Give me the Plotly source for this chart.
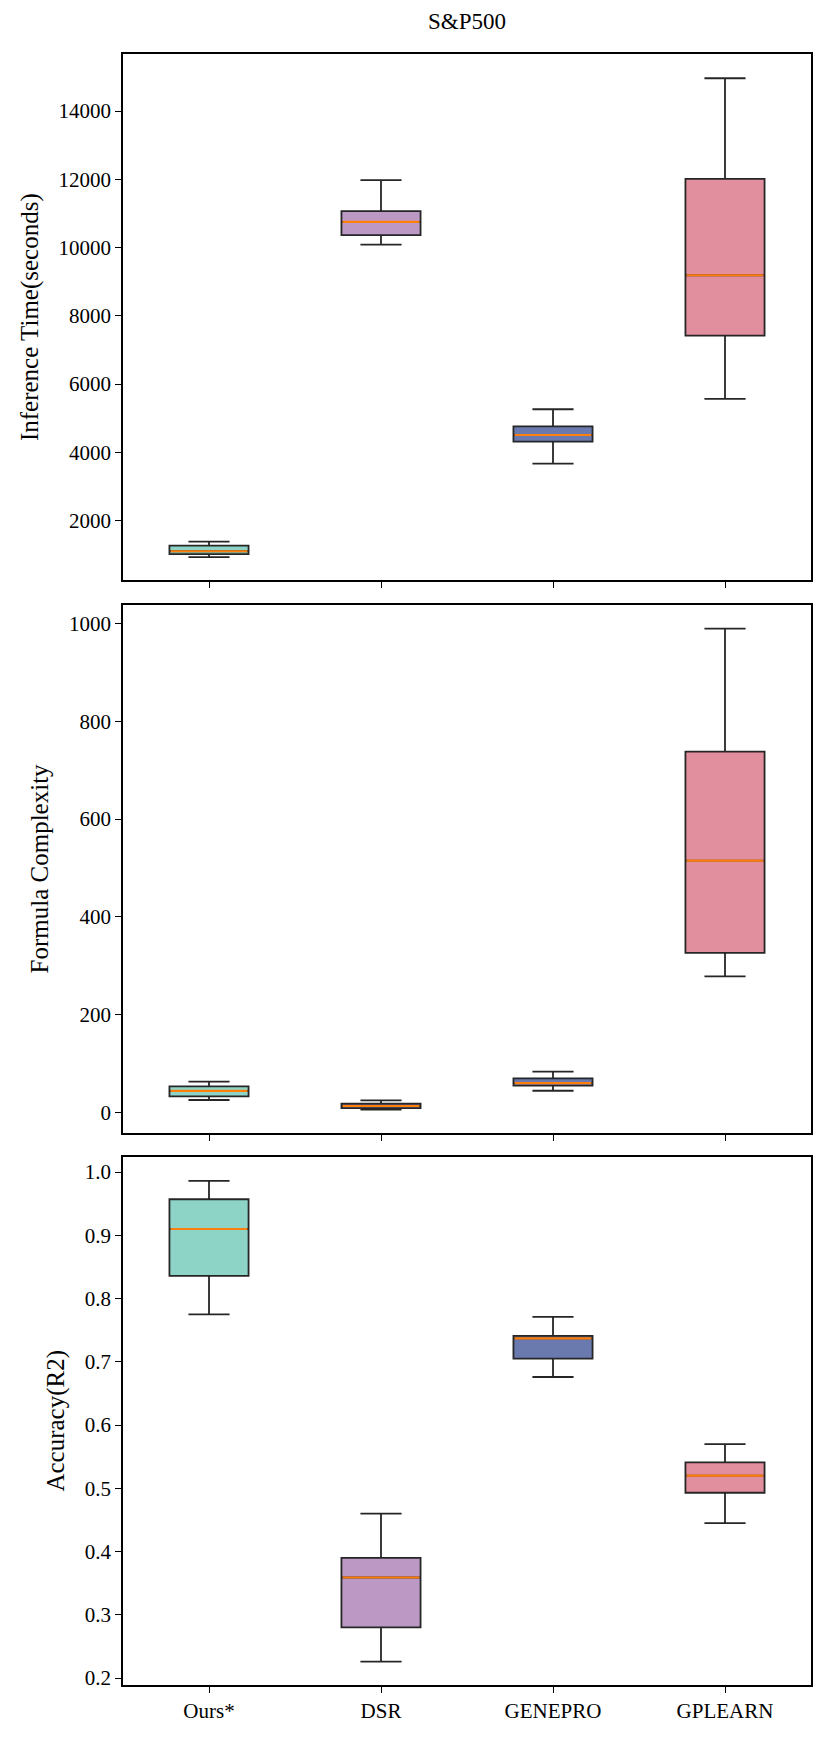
import plotly.graph_objects as go
from plotly.subplots import make_subplots

METHODS = ["Ours*", "DSR", "GENEPRO", "GPLEARN"]
COLORS = ["#8dd4c7", "#bc99c5", "#6a7aae", "#e18e9e"]

# box statistics per method: lower whisker, q1, median, q3, upper whisker
TIME_LOW = [930, 10085, 3670, 5570]
TIME_Q1 = [1020, 10365, 4315, 7420]
TIME_MED = [1105, 10755, 4510, 9190]
TIME_Q3 = [1268, 11070, 4760, 12015]
TIME_HIGH = [1385, 11975, 5265, 14960]

COMPLEXITY_LOW = [25, 5.5, 44, 278]
COMPLEXITY_Q1 = [32.5, 8.3, 54.3, 326]
COMPLEXITY_MED = [43.8, 12.8, 59.6, 515]
COMPLEXITY_Q3 = [52.8, 17.4, 69.4, 738]
COMPLEXITY_HIGH = [62.6, 24.2, 83, 990]

ACC_LOW = [0.775, 0.226, 0.676, 0.445]
ACC_Q1 = [0.836, 0.280, 0.705, 0.493]
ACC_MED = [0.910, 0.359, 0.737, 0.520]
ACC_Q3 = [0.957, 0.390, 0.741, 0.541]
ACC_HIGH = [0.986, 0.460, 0.771, 0.570]

PANELS = [
    ("Inference Time(seconds)", TIME_LOW, TIME_Q1, TIME_MED, TIME_Q3, TIME_HIGH, [253, 15671], 2000, 2000, "d"),
    ("Formula Complexity", COMPLEXITY_LOW, COMPLEXITY_Q1, COMPLEXITY_MED, COMPLEXITY_Q3, COMPLEXITY_HIGH, [-43, 1039], 0, 200, "d"),
    ("Accuracy(R2)", ACC_LOW, ACC_Q1, ACC_MED, ACC_Q3, ACC_HIGH, [0.189, 1.0245], 0.2, 0.1, ".1f"),
]

FONT = "Liberation Serif, Times New Roman, serif"
BOX_WIDTH = 0.46

fig = make_subplots(rows=3, cols=1, vertical_spacing=0.0)

domains = [[0.6773, 1.0], [0.3383, 0.6624], [0.0, 0.324]]

for row, (title, low, q1, med, q3, high, yrange, tick0, dtick, fmt) in enumerate(PANELS, start=1):
    for i, name in enumerate(METHODS):
        fig.add_trace(
            go.Box(
                x=[name], lowerfence=[low[i]], q1=[q1[i]], median=[med[i]], q3=[q3[i]], upperfence=[high[i]],
                fillcolor=COLORS[i], line=dict(color="#262626", width=1.8),
                width=BOX_WIDTH, whiskerwidth=0.52, boxpoints=False,
                hoverinfo="skip", showlegend=False,
            ),
            row=row, col=1,
        )
    # orange median line drawn as a flat box on top
    fig.add_trace(
        go.Box(
            x=METHODS, lowerfence=med, q1=med, median=med, q3=med, upperfence=med,
            fillcolor="rgba(0,0,0,0)", line=dict(color="#ff7f0e", width=2.2),
            width=BOX_WIDTH * 0.97, whiskerwidth=0, boxpoints=False,
            hoverinfo="skip", showlegend=False,
        ),
        row=row, col=1,
    )
    axis_style = dict(
        showline=True, mirror=True, linecolor="black", linewidth=1.5,
        ticks="outside", ticklen=6, tickwidth=1.3, tickcolor="black",
        showgrid=False, zeroline=False, tickfont=dict(size=21),
    )
    fig.update_xaxes(
        categoryorder="array", categoryarray=METHODS, range=[-0.5, 3.5],
        showticklabels=(row == 3), domain=[0, 1], **axis_style, row=row, col=1,
    )
    fig.update_yaxes(
        title=dict(text=title, font=dict(size=25), standoff=13),
        range=yrange, tick0=tick0, dtick=dtick, tickformat=fmt,
        domain=domains[row - 1], **axis_style, row=row, col=1,
    )

fig.update_layout(
    width=830, height=1742,
    margin=dict(l=115, r=27, t=46, b=65),
    boxmode="overlay",
    plot_bgcolor="white", paper_bgcolor="white",
    font=dict(family=FONT, size=21, color="black"),
    title=dict(text="S&P500", x=0.5, xref="paper", xanchor="center", y=0.9925, yref="container", yanchor="middle",
               font=dict(size=23)),
)

fig.write_html("out.html")
